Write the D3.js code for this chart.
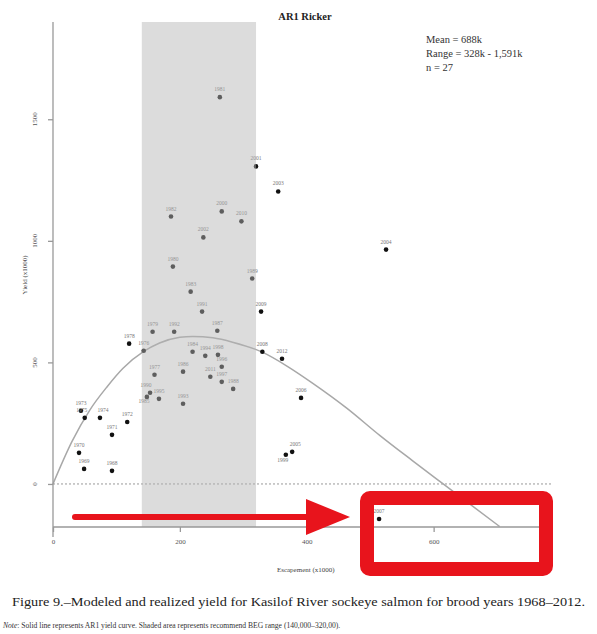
<!DOCTYPE html>
<html>
<head>
<meta charset="utf-8">
<script src="https://cdn.jsdelivr.net/npm/d3@7"></script>
<style>
  body { margin: 0; background: #fff; }
  svg { font-family: "Liberation Serif", "DejaVu Serif", serif; }
</style>
</head>
<body>
<div id="chart"></div>
<script>
// brood years and their escapement / yield (x1000)
const years = [1968, 1969, 1970, 1971, 1972, 1973, 1974, 1975, 1976, 1977,
  1978, 1979, 1980, 1981, 1982, 1983, 1984, 1985, 1986, 1987,
  1988, 1989, 1990, 1991, 1992, 1993, 1994, 1995, 1996, 1997,
  1998, 1999, 2000, 2001, 2002, 2003, 2004, 2005, 2006, 2007,
  2008, 2009, 2010, 2011, 2012]
const escapement = [93, 49, 41, 93, 117, 44, 74, 50, 143, 160,
  120, 157, 189, 263, 186, 217, 220, 148, 205, 259,
  284, 314, 153, 235, 191, 205, 240, 167, 266, 266,
  260, 367, 266, 320, 237, 355, 525, 377, 391, 514,
  330, 328, 297, 248, 361]
const yieldK = [54, 62, 128, 202, 255, 301, 272, 272, 548, 449,
  577, 626, 894, 1591, 1100, 791, 544, 358, 462, 630,
  391, 845, 375, 709, 626, 330, 527, 350, 482, 420,
  531, 120, 1121, 1306, 1014, 1203, 964, 132, 354, -144,
  544, 709, 1080, 441, 515]

// AR1 yield curve
const curveEsc = [0, 30, 58, 85, 110, 143, 168, 200, 220, 252, 283, 329, 370, 409, 463, 515, 567, 615, 704]
const curveYield = [0, 175, 304, 399, 475, 545, 580, 603, 607, 601, 583, 543, 483, 415, 312, 200, 95, 0, -175]

const begRange = [140, 320]
const xTicks = [0, 200, 400, 600]
const yTicks = [0, 500, 1000, 1500]
const statsLines = ["Mean = 688k", "Range = 328k - 1,591k", "n = 27"]

const width = 597, height = 634
const plotLeft = 53, plotRight = 551, plotTop = 22, plotBottom = 527

// a few year labels nudged so they don't sit exactly on each other
const labelNudge = { 1985: [-3, 12], 1990: [-4, 0], 1999: [-3, 13], 2005: [3, 0], 1975: [-3, 0], 1974: [3, 0] }

const svg = d3.select("#chart")
    .append("svg")
    .attr("width", width)
    .attr("height", height)

const x = d3.scaleLinear().domain([0, 785]).range([plotLeft, plotRight])
const y = d3.scaleLinear().domain([-177, 1900]).range([plotBottom, plotTop])

// title
svg.append("text")
    .attr("x", 305).attr("y", 20)
    .attr("text-anchor", "middle")
    .style("font-size", "10.5px")
    .style("font-weight", "bold")
    .style("fill", "#222")
    .text("AR1 Ricker")

// zero line
svg.append("line")
    .attr("x1", plotLeft).attr("x2", plotRight)
    .attr("y1", y(0)).attr("y2", y(0))
    .attr("stroke", "#999")
    .attr("stroke-width", 1)
    .attr("stroke-dasharray", "2,2")

// yield curve
const line = d3.line()
    .x(function (d, i) { return x(curveEsc[i]) })
    .y(function (d) { return y(d) })
    .curve(d3.curveMonotoneX)

svg.append("path")
    .datum(curveYield)
    .attr("d", line)
    .attr("fill", "none")
    .attr("stroke", "#a8a8a8")
    .attr("stroke-width", 1.5)

// points + year labels
const pts = years.map(function (yr, i) { return { year: yr, s: escapement[i], r: yieldK[i] } })

svg.selectAll("circle.pt")
    .data(pts)
    .join("circle")
    .attr("class", "pt")
    .attr("cx", function (d) { return x(d.s) })
    .attr("cy", function (d) { return y(d.r) })
    .attr("r", 2.3)
    .attr("fill", "#111")

svg.selectAll("text.yr")
    .data(pts)
    .join("text")
    .attr("class", "yr")
    .attr("x", function (d) { return x(d.s) + (labelNudge[d.year] ? labelNudge[d.year][0] : 0) })
    .attr("y", function (d) { return y(d.r) - 6 + (labelNudge[d.year] ? labelNudge[d.year][1] : 0) })
    .attr("text-anchor", "middle")
    .style("font-size", "5.5px")
    .style("fill", "#777")
    .text(function (d) { return d.year })

// shaded BEG range, drawn on top like the original
svg.append("rect")
    .attr("x", x(begRange[0]))
    .attr("y", plotTop)
    .attr("width", x(begRange[1]) - x(begRange[0]))
    .attr("height", plotBottom - plotTop)
    .attr("fill", "#b5b5b5")
    .attr("opacity", 0.47)

// x axis
const xAxis = svg.append("g")
    .attr("transform", `translate(0,${plotBottom})`)
    .call(d3.axisBottom(x).tickValues(xTicks).tickSize(5).tickPadding(7))
xAxis.select(".domain").attr("d", `M${plotLeft},0H${plotRight}`)
xAxis.selectAll(".tick text")
    .style("font-family", "Liberation Serif, serif")
    .style("font-size", "7px")
    .style("fill", "#555")

// y axis (labels rotated like the original)
const yAxis = svg.append("g")
    .attr("transform", `translate(${plotLeft},0)`)
    .call(d3.axisLeft(y).tickValues(yTicks).tickSize(5).tickFormat(""))
yAxis.select(".domain").attr("d", `M0,${plotTop}V${plotBottom + 10}`)

svg.selectAll("text.ytick")
    .data(yTicks)
    .join("text")
    .attr("class", "ytick")
    .attr("transform", function (d) { return `translate(${plotLeft - 16},${y(d)}) rotate(-90)` })
    .attr("text-anchor", "middle")
    .style("font-size", "7px")
    .style("fill", "#555")
    .text(function (d) { return d })

svg.selectAll(".domain, .tick line").attr("stroke", "#999").attr("stroke-width", 1.3)

// axis titles
svg.append("text")
    .attr("x", x(400) - 1).attr("y", 572)
    .attr("text-anchor", "middle")
    .style("font-size", "7px")
    .style("fill", "#444")
    .text("Escapement (x1000)")

svg.append("text")
    .attr("transform", "translate(27,275) rotate(-90)")
    .attr("text-anchor", "middle")
    .style("font-size", "7px")
    .style("fill", "#444")
    .text("Yield (x1000)")

// stats box
svg.selectAll("text.stat")
    .data(statsLines)
    .join("text")
    .attr("class", "stat")
    .attr("x", 426)
    .attr("y", function (d, i) { return 43 + i * 14 })
    .style("font-size", "10.5px")
    .style("fill", "#333")
    .text(function (d) { return d })

// red annotation: arrow and box
const red = "#e8141c"
svg.append("line")
    .attr("x1", 75).attr("x2", 312)
    .attr("y1", 517).attr("y2", 517)
    .attr("stroke", red)
    .attr("stroke-width", 6)
    .attr("stroke-linecap", "round")
svg.append("path")
    .attr("d", "M306,499 L350,517 L306,535 Z")
    .attr("fill", red)
svg.append("rect")
    .attr("x", 367).attr("y", 498)
    .attr("width", 179).attr("height", 71)
    .attr("rx", 3)
    .attr("fill", "none")
    .attr("stroke", red)
    .attr("stroke-width", 14)

// caption
svg.append("text")
    .attr("x", 12).attr("y", 606)
    .attr("textLength", 573)
    .attr("lengthAdjust", "spacingAndGlyphs")
    .style("font-size", "13px")
    .style("fill", "#222")
    .text("Figure 9.\u2013Modeled and realized yield for Kasilof River sockeye salmon for brood years 1968\u20132012.")

const note = svg.append("text")
    .attr("x", 3).attr("y", 628)
    .style("font-size", "7.6px")
    .style("fill", "#333")
note.append("tspan").style("font-style", "italic").text("Note")
note.append("tspan").text(": Solid line represents AR1 yield curve. Shaded area represents recommend BEG range (140,000\u2013320,00).")
</script>
</body>
</html>
